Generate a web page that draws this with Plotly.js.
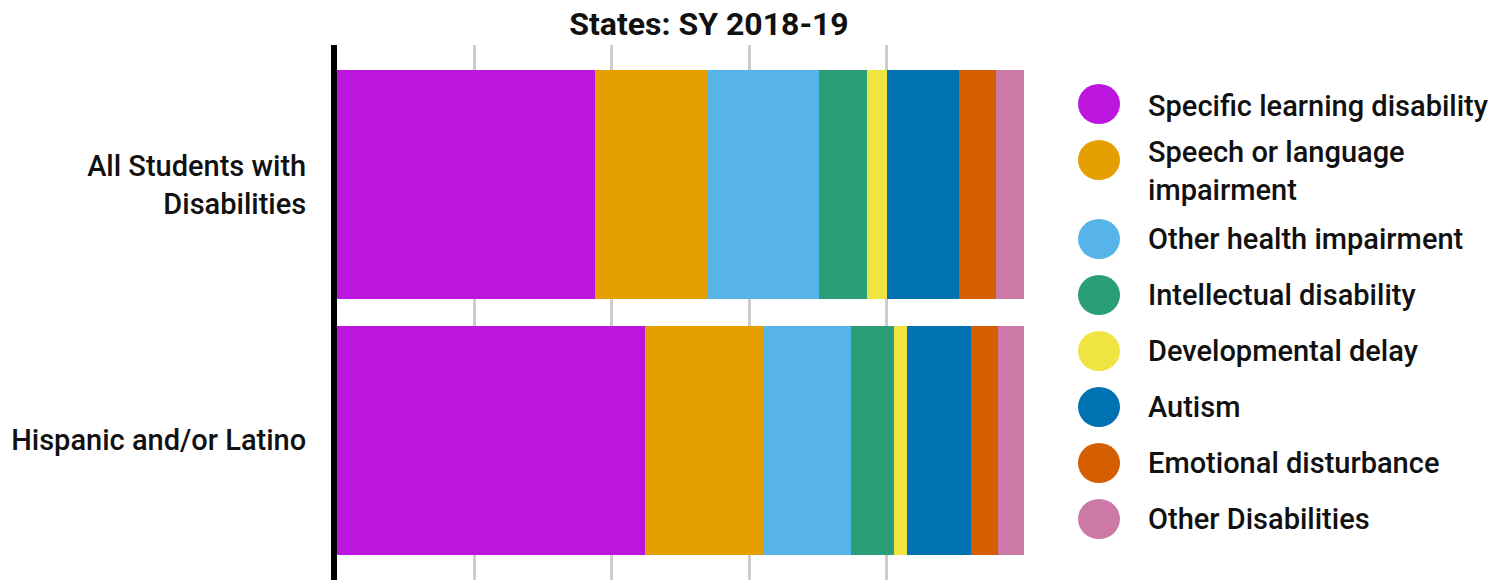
<!DOCTYPE html>
<html>
<head>
<meta charset="utf-8">
<script src="https://cdn.plot.ly/plotly-3.0.1.min.js"></script>
<style>
  html, body { margin: 0; padding: 0; background: #fff; }
  #chart { width: 1507px; height: 580px; }
</style>
</head>
<body>
<div id="chart"></div>
<script>
// Categories (rows)
const groups = ["All Students with<br>Disabilities", "Hispanic and/or Latino"];

// Disability categories (series)
const seriesNames = [
  "Specific learning disability",
  "Speech or language<br>impairment",
  "Other health impairment",
  "Intellectual disability",
  "Developmental delay",
  "Autism",
  "Emotional disturbance",
  "Other Disabilities"
];

const seriesColors = ["#BC16DE", "#E69F00", "#56B4E9", "#2A9E78", "#F0E442", "#0072B2", "#D55E00", "#CC79A7"];

// Percent of students in each row (All Students, Hispanic and/or Latino)
const specificLearning = [37.6, 44.9];
const speechLanguage   = [16.3, 17.1];
const otherHealth      = [16.3, 12.8];
const intellectual     = [7.0, 6.3];
const developmental    = [2.8, 1.9];
const autism           = [10.5, 9.3];
const emotional        = [5.4, 3.9];
const otherDisabilities= [4.1, 3.8];

const seriesValues = [specificLearning, speechLanguage, otherHealth, intellectual,
                      developmental, autism, emotional, otherDisabilities];

const FONT = "Roboto, 'Noto Sans', sans-serif";

const traces = seriesNames.map((name, i) => ({
  type: "bar",
  orientation: "h",
  name: name,
  x: seriesValues[i],
  y: groups,
  marker: { color: seriesColors[i], line: { width: 0 } },
  showlegend: false,
  hoverinfo: "x+name"
}));

// Plot area in pixels
const PL = 337, PR = 1024, PT = 45, PB = 580;
const px = v => (v - PL) / (PR - PL);
const py = v => (PB - v) / (PB - PT);

// Custom legend with large circles
const legendY = [104, 160, 239, 295, 351, 407, 463, 519];
const textY   = [106, 171, 239, 295, 351, 407, 463, 519];
const shapes = [];
const annotations = [];
seriesNames.forEach((name, i) => {
  shapes.push({
    type: "circle", xref: "paper", yref: "paper",
    xsizemode: "pixel", ysizemode: "pixel",
    xanchor: px(1099), yanchor: py(legendY[i]),
    x0: -21, x1: 21, y0: -20, y1: 20,
    fillcolor: seriesColors[i], line: { width: 0 }
  });
  annotations.push({
    xref: "paper", yref: "paper",
    x: px(1146), y: py(textY[i]),
    xanchor: "left", yanchor: "middle", align: "left",
    text: name, showarrow: false,
    font: { family: FONT, size: 29, weight: 500, color: "#111" }
  });
});

const layout = {
  width: 1507, height: 580,
  margin: { l: PL, r: 1507 - PR, t: PT, b: 580 - PB, pad: 0 },
  paper_bgcolor: "#fff", plot_bgcolor: "#fff",
  barmode: "stack",
  bargap: 0.104,
  title: {
    text: "<b>States: SY 2018-19</b>",
    x: 709 / 1507, xanchor: "center", xref: "container",
    y: 1 - 24 / 580, yanchor: "middle", yref: "container",
    font: { family: FONT, size: 32, color: "#111" }
  },
  xaxis: {
    range: [0, 100], dtick: 20, showgrid: true,
    gridcolor: "#cccccc", gridwidth: 3,
    showticklabels: false, zeroline: false, showline: false, ticks: "",
    fixedrange: true
  },
  yaxis: {
    type: "category",
    range: [1.547, -0.547],
    showgrid: false, zeroline: false,
    showline: true, linecolor: "#000", linewidth: 6,
    ticks: "", ticklabelstandoff: 19,
    tickfont: { family: FONT, size: 29, weight: 500, color: "#111" },
    fixedrange: true
  },
  shapes: shapes,
  annotations: annotations,
  showlegend: false
};

Plotly.newPlot("chart", traces, layout, { displayModeBar: false, staticPlot: true });
</script>
</body>
</html>
